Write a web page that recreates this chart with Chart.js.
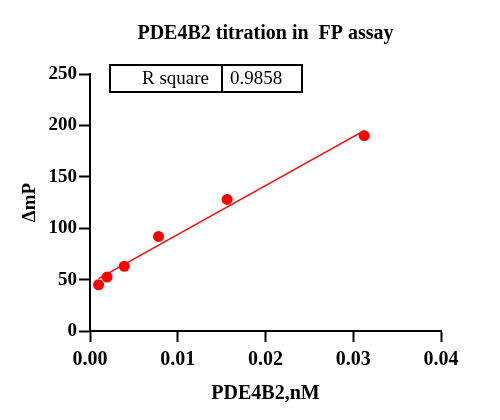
<!DOCTYPE html>
<html>
<head>
<meta charset="utf-8">
<script src="https://cdn.jsdelivr.net/npm/chart.js@4/dist/chart.umd.min.js"></script>
<style>
  html, body { margin: 0; padding: 0; background: #fff; }
  #wrap { position: relative; width: 500px; height: 420px; }
</style>
</head>
<body>
<div id="wrap"><canvas id="c" width="500" height="420"></canvas></div>
<script>
// ---- data ----
const concentrations = [0.000977, 0.001953, 0.003906, 0.0078125, 0.015625, 0.03125];
const deltaMP = [45, 52.5, 63, 92, 128, 190];
const fitX = [0.000977, 0.03125];
const fitY = [51, 195];
const xTicks = [0, 0.01, 0.02, 0.03, 0.04];
const yTicks = [0, 50, 100, 150, 200, 250];
const statLabel = 'R square';
const statValue = '0.9858';
const titleText = 'PDE4B2 titration in  FP assay';
const xTitle = 'PDE4B2,nM';
const yTitle = '\u0394mP';

const SERIF = '"Liberation Serif", "Times New Roman", serif';

const tablePlugin = {
  id: 'rtable',
  afterDraw(chart) {
    const ctx = chart.ctx;
    const a = chart.chartArea;
    const x0 = a.left + 20, y0 = a.top - 9, w = 192, h = 27, div = 112;
    ctx.save();
    ctx.strokeStyle = '#000';
    ctx.lineWidth = 2;
    ctx.strokeRect(x0, y0, w, h);
    ctx.beginPath();
    ctx.moveTo(x0 + div, y0);
    ctx.lineTo(x0 + div, y0 + h);
    ctx.stroke();
    ctx.fillStyle = '#000';
    ctx.font = '19px ' + SERIF;
    ctx.textBaseline = 'middle';
    ctx.textAlign = 'right';
    ctx.fillText(statLabel, x0 + div - 13, y0 + h / 2 + 1);
    ctx.textAlign = 'left';
    ctx.fillText(statValue, x0 + div + 8, y0 + h / 2 + 1);
    ctx.restore();
  }
};

new Chart(document.getElementById('c'), {
  type: 'scatter',
  data: {
    datasets: [
      {
        label: 'fit',
        data: fitX.map((x, i) => ({ x, y: fitY[i] })),
        showLine: true,
        borderColor: '#ff0000',
        borderWidth: 1.5,
        pointRadius: 0,
        fill: false,
        clip: false,
        order: 2
      },
      {
        label: 'data',
        data: concentrations.map((x, i) => ({ x, y: deltaMP[i] })),
        backgroundColor: '#ff0000',
        borderColor: '#ff0000',
        pointRadius: 5.5,
        pointBorderWidth: 0,
        clip: false,
        order: 1
      }
    ]
  },
  options: {
    responsive: false,
    animation: false,
    events: [],
    layout: { padding: { left: 0, right: 59, top: 0, bottom: 0 } },
    plugins: {
      legend: { display: false },
      tooltip: { enabled: false },
      title: {
        display: true,
        text: titleText,
        fullSize: false,
        color: '#000',
        font: { family: SERIF, size: 20, weight: 'bold' },
        padding: { top: 22, bottom: 28 }
      }
    },
    scales: {
      x: {
        type: 'linear',
        min: 0,
        max: 0.04,
        afterFit(s) { s.height = 89; },
        afterBuildTicks(s) { s.ticks = xTicks.map(v => ({ value: v })); },
        ticks: {
          color: '#000',
          font: { family: SERIF, size: 20, weight: 'bold' },
          padding: 6,
          maxRotation: 0,
          callback: v => Number(v).toFixed(2)
        },
        grid: {
          drawOnChartArea: false,
          drawTicks: true,
          tickLength: 11,
          tickWidth: 2,
          tickColor: '#000'
        },
        border: { display: true, color: '#000', width: 2 },
        title: {
          display: true,
          text: xTitle,
          color: '#000',
          font: { family: SERIF, size: 20, weight: 'bold' },
          padding: { top: 0, bottom: 14 }
        }
      },
      y: {
        type: 'linear',
        min: 0,
        max: 250,
        afterFit(s) { s.width = 90; },
        afterBuildTicks(s) { s.ticks = yTicks.map(v => ({ value: v })); },
        ticks: {
          color: '#000',
          font: { family: SERIF, size: 19, weight: 'bold' },
          padding: 2
        },
        grid: {
          drawOnChartArea: false,
          drawTicks: true,
          tickLength: 11,
          tickWidth: 2,
          tickColor: '#000'
        },
        border: { display: true, color: '#000', width: 2 },
        title: {
          display: true,
          text: yTitle,
          color: '#000',
          font: { family: SERIF, size: 19, weight: 'bold' },
          padding: { top: 19, bottom: 0 }
        }
      }
    }
  },
  plugins: [tablePlugin]
});
</script>
</body>
</html>
